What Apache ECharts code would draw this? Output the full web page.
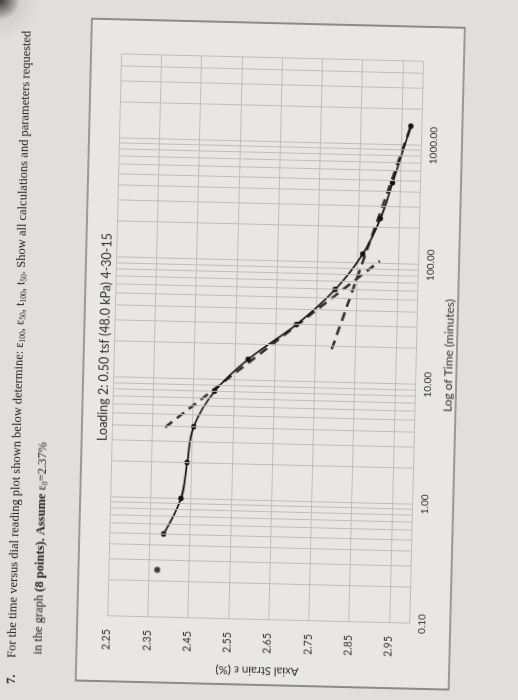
<!DOCTYPE html>
<html><head><meta charset="utf-8">
<script src="https://cdn.jsdelivr.net/npm/echarts@6/dist/echarts.min.js"></script>
<style>
html,body{margin:0;padding:0;width:518px;height:700px;overflow:hidden;
  background:radial-gradient(circle at 0 0, #3a3a3a 0px, #7a7978 9px, #d3d1ce 20px, #e1dfdc 40px);}
#page{position:absolute;left:0;top:0;width:518px;height:700px;transform-origin:265px 345px;transform:rotate(1.4deg);}
#chart{position:absolute;left:0;top:0;width:700px;height:518px;transform-origin:0 0;transform:translate(0,700px) rotate(-90deg);}
</style></head><body><div id="page"><div id="chart"></div></div>
<script>
// ---- data ----
const timeMinutes = [0.5, 1, 2, 4, 8, 15, 30, 60, 120, 240, 480, 1440];
const axialStrain = [2.385, 2.426, 2.439, 2.453, 2.503, 2.584, 2.702, 2.796, 2.862, 2.904, 2.932, 2.974];
const initialTime = [0.25];
const initialStrain = [2.371];
const tangentPrimaryTime = [3.9, 106];
const tangentPrimaryStrain = [2.382, 2.905];
const tangentSecondaryTime = [19, 1440];
const tangentSecondaryStrain = [2.791, 2.974];
const xTickLabels = ['0.10', '1.00', '10.00', '100.00', '1000.00'];
const yTickLabels = ['2.25', '2.35', '2.45', '2.55', '2.65', '2.75', '2.85', '2.95'];
const minorDecades = [0.1, 1, 10, 100, 1000];
const minorMultipliers = [2, 3, 4, 5, 6, 7, 8, 9];

const strainBase = 2.25;   // axis origin (first tick label)
const strainTop = 3.00;    // axis end
const timeMin = 0.1, timeMax = 5000;

const pairs = (xs, ys) => xs.map((x, i) => [x, +(ys[i] - strainBase).toFixed(4)]);
const minorTimes = [];
minorDecades.forEach(d => minorMultipliers.forEach(m => { const v = d * m; if (v < timeMax) minorTimes.push(+v.toPrecision(3)); }));

const sans = 'Lato, "Open Sans", sans-serif';
const serif = '"Liberation Serif", "DejaVu Serif", serif';
const ink = '#2f2f2f';
const gridColor = '#c0bebb';

const chart = echarts.init(document.getElementById('chart'), null, {renderer: 'canvas', width: 700, height: 518});
chart.setOption({
  animation: false,
  backgroundColor: 'transparent',
  title: {
    text: 'Loading 2: 0.50 tsf (48.0 kPa) 4-30-15',
    left: 354, top: 93, textAlign: 'center',
    textStyle: {fontFamily: sans, fontSize: 12.5, fontWeight: 'normal', color: ink}
  },
  grid: {left: 80, right: 58, top: 114, bottom: 102},
  xAxis: {
    type: 'log', logBase: 10, min: timeMin, max: timeMax,
    name: 'Log of Time (minutes)', nameLocation: 'middle', nameGap: 27,
    nameTextStyle: {fontFamily: sans, fontSize: 12, color: ink, padding: [0, 24, 0, 0]},
    axisLine: {show: true, onZero: false, lineStyle: {color: gridColor, width: 1}},
    axisTick: {show: false},
    axisLabel: {margin: 8, showMaxLabel: false, fontFamily: sans, fontSize: 10, color: ink,
      formatter: v => { const l = Math.log10(v), r = Math.round(l); return Math.abs(l - r) < 1e-6 ? (xTickLabels[r + 1] || '') : ''; }},
    splitLine: {show: true, lineStyle: {color: gridColor, width: 1}}
  },
  yAxis: {
    type: 'value', inverse: true, min: 0, max: +(strainTop - strainBase).toFixed(2), interval: 0.1,
    name: 'Axial Strain ε (%)', nameLocation: 'middle', nameGap: 40, nameRotate: 90,
    nameTextStyle: {fontFamily: sans, fontSize: 11.5, color: ink},
    axisLine: {show: true, onZero: false, lineStyle: {color: gridColor, width: 1}},
    axisTick: {show: false},
    axisLabel: {margin: 13, showMaxLabel: false, fontFamily: sans, fontSize: 10.5, color: ink,
      formatter: v => yTickLabels[Math.round(v / 0.1)] || ''},
    splitLine: {show: true, lineStyle: {color: gridColor, width: 1}}
  },
  graphic: [
    {type: 'rect', z: -10, shape: {x: 15, y: 84, width: 662, height: 373},
     style: {fill: '#e9e7e4', stroke: '#505050', lineWidth: 1.2}},
    {type: 'text', x: 10, y: 20, style: {text: '7.', font: 'bold 12.5px ' + serif, fill: '#222', verticalAlign: 'middle'}},
    {type: 'text', x: 36, y: 20, style: {
      text: 'For the time versus dial reading plot shown below determine: ε{s|100}, ε{s|50}, t{s|100}, t{s|50}. Show all calculations and parameters requested',
      font: '12.5px ' + serif, fill: '#222', verticalAlign: 'middle',
      rich: {s: {fontSize: 7.5, fontFamily: serif, fill: '#222', padding: [6, 0, 0, 0]}}}},
    {type: 'text', x: 40, y: 46, style: {
      text: 'in the graph {b|(8 points).} {b|Assume} ε{s|0}=2.37%',
      font: '12.5px ' + serif, fill: '#222', verticalAlign: 'middle',
      rich: {b: {fontWeight: 'bold', fontSize: 12.5, fontFamily: serif, fill: '#222'},
             s: {fontSize: 7.5, fontFamily: serif, fill: '#222', padding: [6, 0, 0, 0]}}}}
  ],
  series: [
    {type: 'line', name: 'minor grid', data: [], z: 1, silent: true,
     markLine: {silent: true, symbol: ['none', 'none'], label: {show: false}, animation: false,
       lineStyle: {color: gridColor, width: 1, type: 'solid'}, emphasis: {disabled: true},
       data: minorTimes.map(v => ({xAxis: v}))}},
    {type: 'line', name: 'tangent primary', data: pairs(tangentPrimaryTime, tangentPrimaryStrain), z: 3,
     symbol: 'none', lineStyle: {color: '#333', width: 2.6, type: [9, 6]}},
    {type: 'line', name: 'tangent secondary', data: pairs(tangentSecondaryTime, tangentSecondaryStrain), z: 3,
     symbol: 'none', lineStyle: {color: '#333', width: 2.6, type: [9, 6]}},
    {type: 'line', name: 'strain', data: pairs(timeMinutes, axialStrain), z: 4, smooth: 0.35,
     symbol: 'circle', symbolSize: 5.5, itemStyle: {color: '#141414'}, lineStyle: {color: '#141414', width: 1.7}},
    {type: 'scatter', name: 'initial', data: pairs(initialTime, initialStrain), z: 4,
     symbol: 'circle', symbolSize: 6, itemStyle: {color: '#141414'}}
  ]
});
</script></body></html>
